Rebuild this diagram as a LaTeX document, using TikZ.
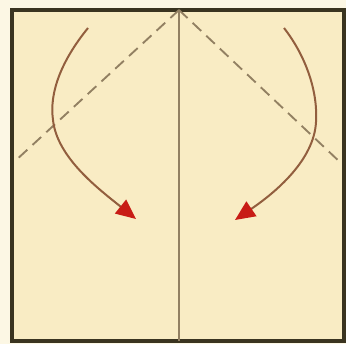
\documentclass[tikz,border=0pt]{standalone}
\usepackage{xcolor}
\usetikzlibrary{arrows.meta}
\definecolor{paper}{RGB}{249,236,196}
\definecolor{margin}{RGB}{252,247,228}
\definecolor{edgedark}{RGB}{58,52,32}
\definecolor{foldgray}{RGB}{146,128,98}
\definecolor{arrowbrown}{RGB}{146,94,62}
\definecolor{arrowred}{RGB}{200,28,22}

\begin{document}
\begin{tikzpicture}[
  x=0.03cm, y=-0.03cm,
  sheet/.style={draw=edgedark, fill=paper, line width=2.6pt},
  crease/.style={draw=foldgray, line width=1.3pt},
  valley/.style={crease, line width=1.6pt, dash pattern=on 10pt off 6pt},
  turn/.style={draw=arrowbrown, line width=1.7pt, -{Triangle[length=17pt,width=15pt,color=arrowred]}}
]
\fill[margin] (0,0) rectangle (346,344);
\useasboundingbox (0,0) rectangle (346,344);

\coordinate (tl) at (12,10);
\coordinate (br) at (344,341);
\coordinate (apex) at (179,10);
\coordinate (foot) at (179,341);
\coordinate (lside) at (14,162);
\coordinate (rside) at (342,164);

\draw[sheet] (tl) rectangle (br);
\draw[crease] (apex) -- (foot);
\draw[valley] (apex) -- (lside);
\draw[valley] (apex) -- (rside);

% turning arrows
\coordinate (lstart) at (88,28);
\coordinate (lmid) at (53,120);
\coordinate (lend) at (136,219);
\coordinate (rstart) at (284,28);
\coordinate (rmid) at (316,122);
\coordinate (rend) at (235,220);

\draw[turn] (lstart) .. controls (62,60) and (49,92) .. (lmid)
  .. controls (57,158) and (100,190) .. (lend);
\draw[turn] (rstart) .. controls (305,55) and (318,90) .. (rmid)
  .. controls (314,160) and (276,192) .. (rend);
\end{tikzpicture}
\end{document}
